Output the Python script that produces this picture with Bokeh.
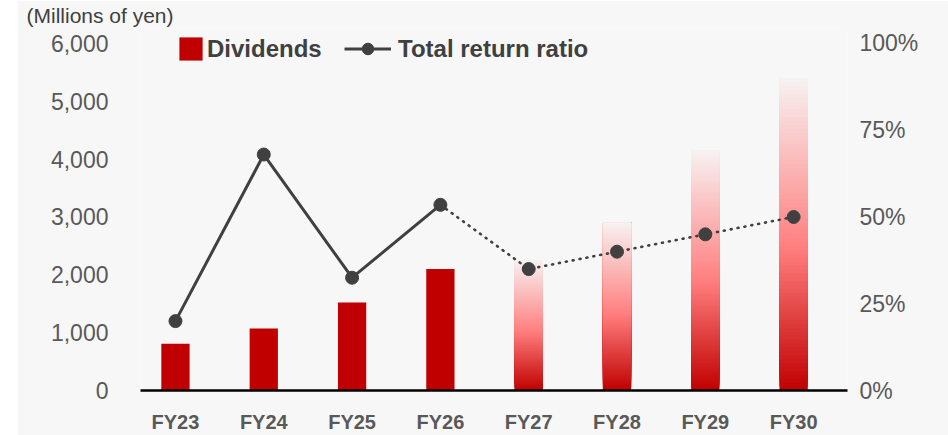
from bokeh.plotting import figure
from bokeh.models import (ColumnDataSource, Range1d, LinearAxis, FixedTicker,
                          NumeralTickFormatter, PrintfTickFormatter, Legend,
                          LegendItem, Spacer)
from bokeh.layouts import row
from bokeh.embed import file_html
from bokeh.resources import INLINE

# ---------------- data ----------------
categories = ["FY23", "FY24", "FY25", "FY26", "FY27", "FY28", "FY29", "FY30"]
dividends = [810, 1070, 1520, 2100, 2250, 2900, 4150, 5400]          # millions of yen
total_return_ratio = [20, 68, 32.5, 53.5, 35, 40, 45, 50]            # %
n_actual = 4                                                          # FY23-FY26 actual, rest plan
left_ticks = [0, 1000, 2000, 3000, 4000, 5000, 6000]
right_ticks = [0, 25, 50, 75, 100]

BG = "#f7f7f7"
RED = "#c00000"
DARK = "#404040"
GREY_TXT = "#595959"
FONT = "Liberation Sans"

xs = list(range(len(categories)))

p = figure(width=931, height=435, output_backend="svg", toolbar_location=None,
           x_range=Range1d(-0.396, 7.61), y_range=Range1d(0, 6258.6),
           min_border_left=123, min_border_right=101,
           min_border_top=28, min_border_bottom=44,
           background_fill_color=BG, border_fill_color=BG, outline_line_color=None)
p.grid.visible = False
p.title.text = "(Millions of yen)"
p.title.text_font = FONT
p.title.text_font_size = "21px"
p.title.text_font_style = "normal"
p.title.text_color = DARK
p.title.align = "left"
p.title.offset = -114
p.title.standoff = 3

# actual bars
src_act = ColumnDataSource(dict(x=xs[:n_actual], top=dividends[:n_actual]))
bars = p.vbar(x="x", top="top", bottom=0, width=0.32, source=src_act,
              fill_color=RED, line_color=None)

# planned bars with vertical gradient (built from slices of each bar's value)
def grad(t):
    stops = [(0.0, (192, 0, 0)), (0.45, (255, 125, 125)), (1.0, (247, 242, 242))]
    for (t0, c0), (t1, c1) in zip(stops[:-1], stops[1:]):
        if t <= t1:
            f = (t - t0) / (t1 - t0)
            return "#%02x%02x%02x" % tuple(int(round(a + (b - a) * f)) for a, b in zip(c0, c1))
    return "#%02x%02x%02x" % stops[-1][1]

N = 80
gx, gb, gt, gc = [], [], [], []
for i in range(n_actual, len(categories)):
    v = dividends[i]
    for k in range(N):
        gx.append(xs[i]); gb.append(v * k / N); gt.append(v); gc.append(grad((k + 0.5) / N))
p.vbar(x=gx, bottom=gb, top=gt, width=0.32, fill_color=gc, line_color=None)

# ratio line on right axis
p.extra_y_ranges = {"ratio": Range1d(0, 104.31)}
l_solid = p.line(xs[:n_actual], total_return_ratio[:n_actual], y_range_name="ratio",
                 line_color=DARK, line_width=3)
p.line(xs[n_actual - 1:], total_return_ratio[n_actual - 1:], y_range_name="ratio",
       line_color=DARK, line_width=2.6, line_dash="1 6", line_cap="round")
pts = p.scatter(xs, total_return_ratio, y_range_name="ratio", size=13,
                fill_color=DARK, line_color=DARK)

# axes
xa = p.xaxis[0]
xa.ticker = FixedTicker(ticks=xs)
xa.major_label_overrides = {i: c for i, c in zip(xs, categories)}
xa.axis_line_color = "#000000"
xa.axis_line_width = 2.5
xa.major_tick_line_color = None
xa.minor_tick_line_color = None
xa.major_tick_out = 0
xa.major_tick_in = 0
xa.minor_tick_out = 0
xa.major_label_text_font = FONT
xa.major_label_text_font_style = "bold"
xa.major_label_text_font_size = "20px"
xa.major_label_text_color = GREY_TXT
xa.major_label_standoff = 20

ya = p.yaxis[0]
ya.ticker = FixedTicker(ticks=left_ticks)
ya.formatter = NumeralTickFormatter(format="0,0")
ya.axis_line_color = None
ya.major_tick_line_color = None
ya.minor_tick_line_color = None
ya.major_tick_out = 0
ya.major_tick_in = 0
ya.minor_tick_out = 0
ya.major_label_text_font = FONT
ya.major_label_text_font_size = "23px"
ya.major_label_text_color = GREY_TXT
ya.major_label_standoff = 32

ra = LinearAxis(y_range_name="ratio", ticker=FixedTicker(ticks=right_ticks),
                formatter=PrintfTickFormatter(format="%d%%"))
ra.axis_line_color = None
ra.major_tick_line_color = None
ra.minor_tick_line_color = None
ra.major_tick_out = 0
ra.major_tick_in = 0
ra.minor_tick_out = 0
ra.major_label_text_font = FONT
ra.major_label_text_font_size = "23px"
ra.major_label_text_color = GREY_TXT
ra.major_label_standoff = 12
p.add_layout(ra, "right")

# legends
def mk_legend(items, loc, gw, standoff):
    lg = Legend(items=items, location=loc, orientation="horizontal",
                glyph_width=gw, glyph_height=29, padding=0, margin=0, spacing=0,
                label_standoff=standoff, background_fill_alpha=0, border_line_alpha=0,
                label_text_font=FONT, label_text_font_style="bold",
                label_text_font_size="24px", label_text_color=DARK)
    p.add_layout(lg)
    return lg

mk_legend([LegendItem(label="Dividends", renderers=[bars])], (36, 327), 29, 2)
mk_legend([LegendItem(label="Total return ratio", renderers=[l_solid, pts])], (204, 327), 47, 7)

layout = row(Spacer(width=17, height=435), p)
open("out.html", "w").write(file_html(layout, INLINE))
